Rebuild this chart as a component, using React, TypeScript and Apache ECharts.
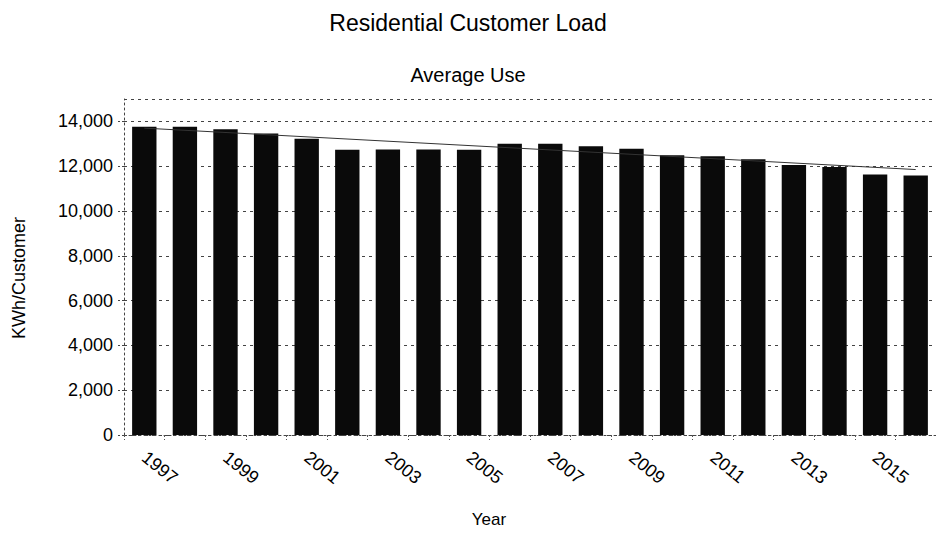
import React, { useEffect, useRef } from "react";
import * as echarts from "echarts";

const years = [
  "1997", "1998", "1999", "2000", "2001", "2002", "2003", "2004", "2005", "2006",
  "2007", "2008", "2009", "2010", "2011", "2012", "2013", "2014", "2015", "2016",
];
const avgUse = [
  13760, 13760, 13650, 13460, 13220, 12730, 12750, 12750, 12730, 13000,
  13000, 12890, 12780, 12490, 12440, 12310, 12050, 11960, 11630, 11580,
];
// linear trend line, read at its two ends
const trendYears = ["1997", "2016"];
const trendValues = [13700, 11850];

const titleText = "Residential Customer Load";
const subtitleText = "Average Use";
const yAxisTitle = "KWh/Customer";
const xAxisTitle = "Year";

const FONT = "'Liberation Sans', Arial, sans-serif";

export default function App() {
  const ref = useRef<HTMLDivElement>(null);
  useEffect(() => {
    if (!ref.current) return;
    const chart = echarts.init(ref.current, undefined, { renderer: "svg" });
    chart.setOption({
      animation: false,
      backgroundColor: "#ffffff",
      textStyle: { fontFamily: FONT, color: "#000" },
      title: [
        {
          text: titleText,
          left: "center",
          top: 6,
          textStyle: { fontFamily: FONT, fontSize: 23, fontWeight: "normal", color: "#000" },
        },
        {
          text: subtitleText,
          left: "center",
          top: 60,
          textStyle: { fontFamily: FONT, fontSize: 20, fontWeight: "normal", color: "#000" },
        },
      ],
      grid: { left: 124, top: 99, width: 824, bottom: 95, containLabel: false },
      xAxis: {
        type: "category",
        data: years,
        boundaryGap: true,
        name: xAxisTitle,
        nameLocation: "middle",
        nameGap: 76,
        nameTextStyle: { fontFamily: FONT, fontSize: 17, color: "#000", padding: [0, 82, 0, 0] },
        axisLine: { show: true, lineStyle: { color: "#444", width: 1, type: [2, 3] } },
        axisTick: { show: true, interval: 0, length: 5, lineStyle: { color: "#555", type: [2, 2] } },
        axisLabel: {
          interval: 1,
          rotate: -39,
          margin: 20,
          fontFamily: FONT,
          fontSize: 18,
          color: "#000",
        },
        splitLine: { show: false },
      },
      yAxis: {
        type: "value",
        min: 0,
        max: 15000,
        interval: 2000,
        name: yAxisTitle,
        nameLocation: "middle",
        nameRotate: 90,
        nameGap: 96,
        nameTextStyle: { fontFamily: FONT, fontSize: 18, color: "#000", padding: [0, 22, 0, 0] },
        axisLine: { show: true, lineStyle: { color: "#444", width: 1, type: [2, 3] } },
        axisTick: { show: true, length: 6, lineStyle: { color: "#444", type: [2, 2] } },
        axisLabel: {
          showMaxLabel: false,
          margin: 11,
          fontFamily: FONT,
          fontSize: 18,
          color: "#000",
          formatter: (v: number) => v.toLocaleString("en-US"),
        },
        splitLine: { show: true, lineStyle: { color: "#444", width: 1, type: [3, 4] } },
      },
      series: [
        {
          type: "bar",
          data: avgUse,
          barWidth: "60%",
          itemStyle: { color: "#0a0a0a" },
          z: 2,
        },
        {
          type: "line",
          data: trendYears.map((y, i) => [y, trendValues[i]]),
          symbol: "none",
          lineStyle: { color: "#333", width: 1 },
          z: 3,
        },
      ],
    });
    return () => chart.dispose();
  }, []);
  return (
    <div
      ref={ref}
      style={{ position: "absolute", left: 0, top: 0, width: 936, height: 533 }}
    />
  );
}
